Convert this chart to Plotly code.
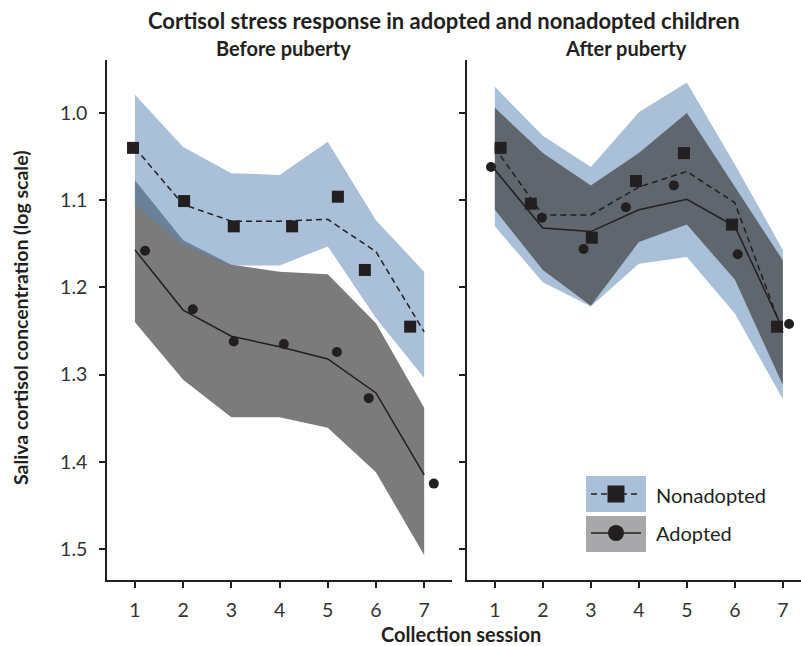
import plotly.graph_objects as go

sessions = [1, 2, 3, 4, 5, 6, 7]
ticks_y = [1.0, 1.1, 1.2, 1.3, 1.4, 1.5]

# ---- Before puberty ----
pre_non_line = [1.040, 1.105, 1.124, 1.124, 1.122, 1.159, 1.251]
pre_non_upper = [0.979, 1.039, 1.069, 1.071, 1.033, 1.123, 1.182]
pre_non_lower = [1.105, 1.152, 1.175, 1.175, 1.153, 1.235, 1.304]
pre_non_pts_x = [0.96, 2.02, 3.05, 4.26, 5.21, 5.77, 6.71]
pre_non_pts_y = [1.040, 1.101, 1.130, 1.130, 1.096, 1.180, 1.245]

pre_ad_line = [1.157, 1.226, 1.256, 1.268, 1.282, 1.321, 1.415]
pre_ad_upper = [1.077, 1.146, 1.174, 1.182, 1.185, 1.241, 1.338]
pre_ad_lower = [1.240, 1.306, 1.349, 1.349, 1.361, 1.412, 1.507]
pre_ad_pts_x = [1.21, 2.20, 3.05, 4.09, 5.19, 5.85, 7.20]
pre_ad_pts_y = [1.158, 1.225, 1.262, 1.265, 1.274, 1.327, 1.425]

# ---- After puberty ----
post_non_line = [1.040, 1.117, 1.117, 1.085, 1.067, 1.103, 1.252]
post_non_upper = [0.970, 1.026, 1.062, 0.999, 0.965, 1.059, 1.157]
post_non_lower = [1.130, 1.194, 1.222, 1.173, 1.165, 1.230, 1.328]
post_non_pts_x = [1.12, 1.75, 3.02, 3.94, 4.94, 5.94, 6.88]
post_non_pts_y = [1.040, 1.104, 1.143, 1.078, 1.046, 1.128, 1.245]

post_ad_line = [1.065, 1.132, 1.136, 1.111, 1.099, 1.130, 1.248]
post_ad_upper = [0.994, 1.046, 1.083, 1.046, 1.000, 1.085, 1.169]
post_ad_lower = [1.111, 1.180, 1.221, 1.148, 1.128, 1.191, 1.312]
post_ad_pts_x = [0.92, 1.98, 2.85, 3.73, 4.73, 6.06, 7.13]
post_ad_pts_y = [1.062, 1.120, 1.156, 1.108, 1.083, 1.162, 1.242]

BLUE = "rgba(92,132,180,0.52)"
GREY = "rgba(58,58,58,0.67)"
INK = "#231f20"
FONT = "Lato"

W, H = 801, 646
L, R, T, B = 107, 0, 60, 66
PW = W - L - R
PH = H - T - B


def px(x):
    return (x - L) / PW


def py(y):
    return (H - B - y) / PH


fig = go.Figure()


def band(upper, lower, color, xa, ya):
    fig.add_trace(go.Scatter(
        x=sessions + sessions[::-1], y=upper + lower[::-1],
        fill="toself", fillcolor=color, mode="lines", line=dict(width=0),
        hoverinfo="skip", showlegend=False, xaxis=xa, yaxis=ya))


def series(line, ptx, pty, dash, symbol, size, xa, ya):
    fig.add_trace(go.Scatter(
        x=sessions, y=line, mode="lines",
        line=dict(color=INK, width=1.5, dash=dash),
        showlegend=False, xaxis=xa, yaxis=ya))
    fig.add_trace(go.Scatter(
        x=ptx, y=pty, mode="markers",
        marker=dict(color=INK, symbol=symbol, size=size),
        showlegend=False, xaxis=xa, yaxis=ya))


# left panel: grey first, blue on top
band(pre_ad_upper, pre_ad_lower, GREY, "x", "y")
band(pre_non_upper, pre_non_lower, BLUE, "x", "y")
series(pre_non_line, pre_non_pts_x, pre_non_pts_y, "6px,4px", "square", 12, "x", "y")
series(pre_ad_line, pre_ad_pts_x, pre_ad_pts_y, "solid", "circle", 10, "x", "y")

# right panel: blue first, grey on top
band(post_non_upper, post_non_lower, BLUE, "x2", "y2")
band(post_ad_upper, post_ad_lower, GREY, "x2", "y2")
series(post_non_line, post_non_pts_x, post_non_pts_y, "6px,4px", "square", 12, "x2", "y2")
series(post_ad_line, post_ad_pts_x, post_ad_pts_y, "solid", "circle", 10, "x2", "y2")

axis_common = dict(showline=True, linecolor=INK, linewidth=1.5, ticks="outside",
                   tickcolor=INK, tickwidth=2, ticklen=6, showgrid=False, zeroline=False,
                   tickfont=dict(family=FONT, size=19.5, color="#333333"))

yr = [1.0 + (H - B - 113) / 872.0, 1.0 - (113 - T) / 872.0]

fig.update_layout(
    width=W, height=H, margin=dict(l=L, r=R, t=T, b=B),
    paper_bgcolor="white", plot_bgcolor="white", showlegend=False,
    font=dict(family=FONT, color=INK),
    xaxis=dict(domain=[0, px(452)], range=[0.42, 0.42 + (452 - 107) / 48.2],
               tickvals=sessions, ticklabelstandoff=6, **axis_common),
    xaxis2=dict(domain=[px(467), 1], range=[0.42, 0.42 + (801 - 467) / 48.0],
                tickvals=sessions, anchor="y2", ticklabelstandoff=6, **axis_common),
    yaxis=dict(range=yr, tickvals=ticks_y, tickformat=".1f", ticklabelstandoff=8,
               **axis_common),
    yaxis2=dict(range=yr, tickvals=ticks_y, showticklabels=False, anchor="x2",
                **axis_common),
)

ann = [
    dict(text="<b>Cortisol stress response in adopted and nonadopted children</b>",
         x=px(444), y=py(20), size=22),
    dict(text="<b>Before puberty</b>", x=px(283), y=py(48), size=20),
    dict(text="<b>After puberty</b>", x=px(626), y=py(48), size=20),
    dict(text="<b>Collection session</b>", x=px(461), y=py(634), size=20),
]
for a in ann:
    fig.add_annotation(text=a["text"], x=a["x"], y=a["y"], xref="paper", yref="paper",
                       showarrow=False, xanchor="center", yanchor="middle",
                       font=dict(family=FONT, size=a["size"], color=INK))
fig.add_annotation(text="<b>Saliva cortisol concentration (log scale)</b>",
                   x=px(20), y=py(318), xref="paper", yref="paper", textangle=-90,
                   showarrow=False, xanchor="center", yanchor="middle",
                   font=dict(family=FONT, size=19.5, color=INK))

# legend (drawn as decoration)
shapes = [
    dict(type="rect", x0=px(586), x1=px(646), y0=py(512), y1=py(476),
         fillcolor="rgb(170,191,216)", line=dict(width=0)),
    dict(type="rect", x0=px(586), x1=px(646), y0=py(552), y1=py(516),
         fillcolor="rgb(168,168,170)", line=dict(width=0)),
    dict(type="line", x0=px(591), x1=px(641), y0=py(494), y1=py(494),
         line=dict(color=INK, width=1.5, dash="6px,4px")),
    dict(type="rect", x0=px(607.5), x1=px(624.5), y0=py(502.5), y1=py(485.5),
         fillcolor=INK, line=dict(width=0)),
    dict(type="line", x0=px(591), x1=px(641), y0=py(533), y1=py(533),
         line=dict(color=INK, width=1.5)),
    dict(type="circle", x0=px(608), x1=px(624), y0=py(541), y1=py(525),
         fillcolor=INK, line=dict(width=0)),
]
for s in shapes:
    fig.add_shape(xref="paper", yref="paper", **s)

fig.add_annotation(text="Nonadopted", x=px(654), y=py(495), xref="paper", yref="paper",
                   showarrow=False, xanchor="left", yanchor="middle",
                   font=dict(family=FONT, size=20, color=INK))
fig.add_annotation(text="Adopted", x=px(654), y=py(533), xref="paper", yref="paper",
                   showarrow=False, xanchor="left", yanchor="middle",
                   font=dict(family=FONT, size=20, color=INK))

fig.write_html("out.html")
